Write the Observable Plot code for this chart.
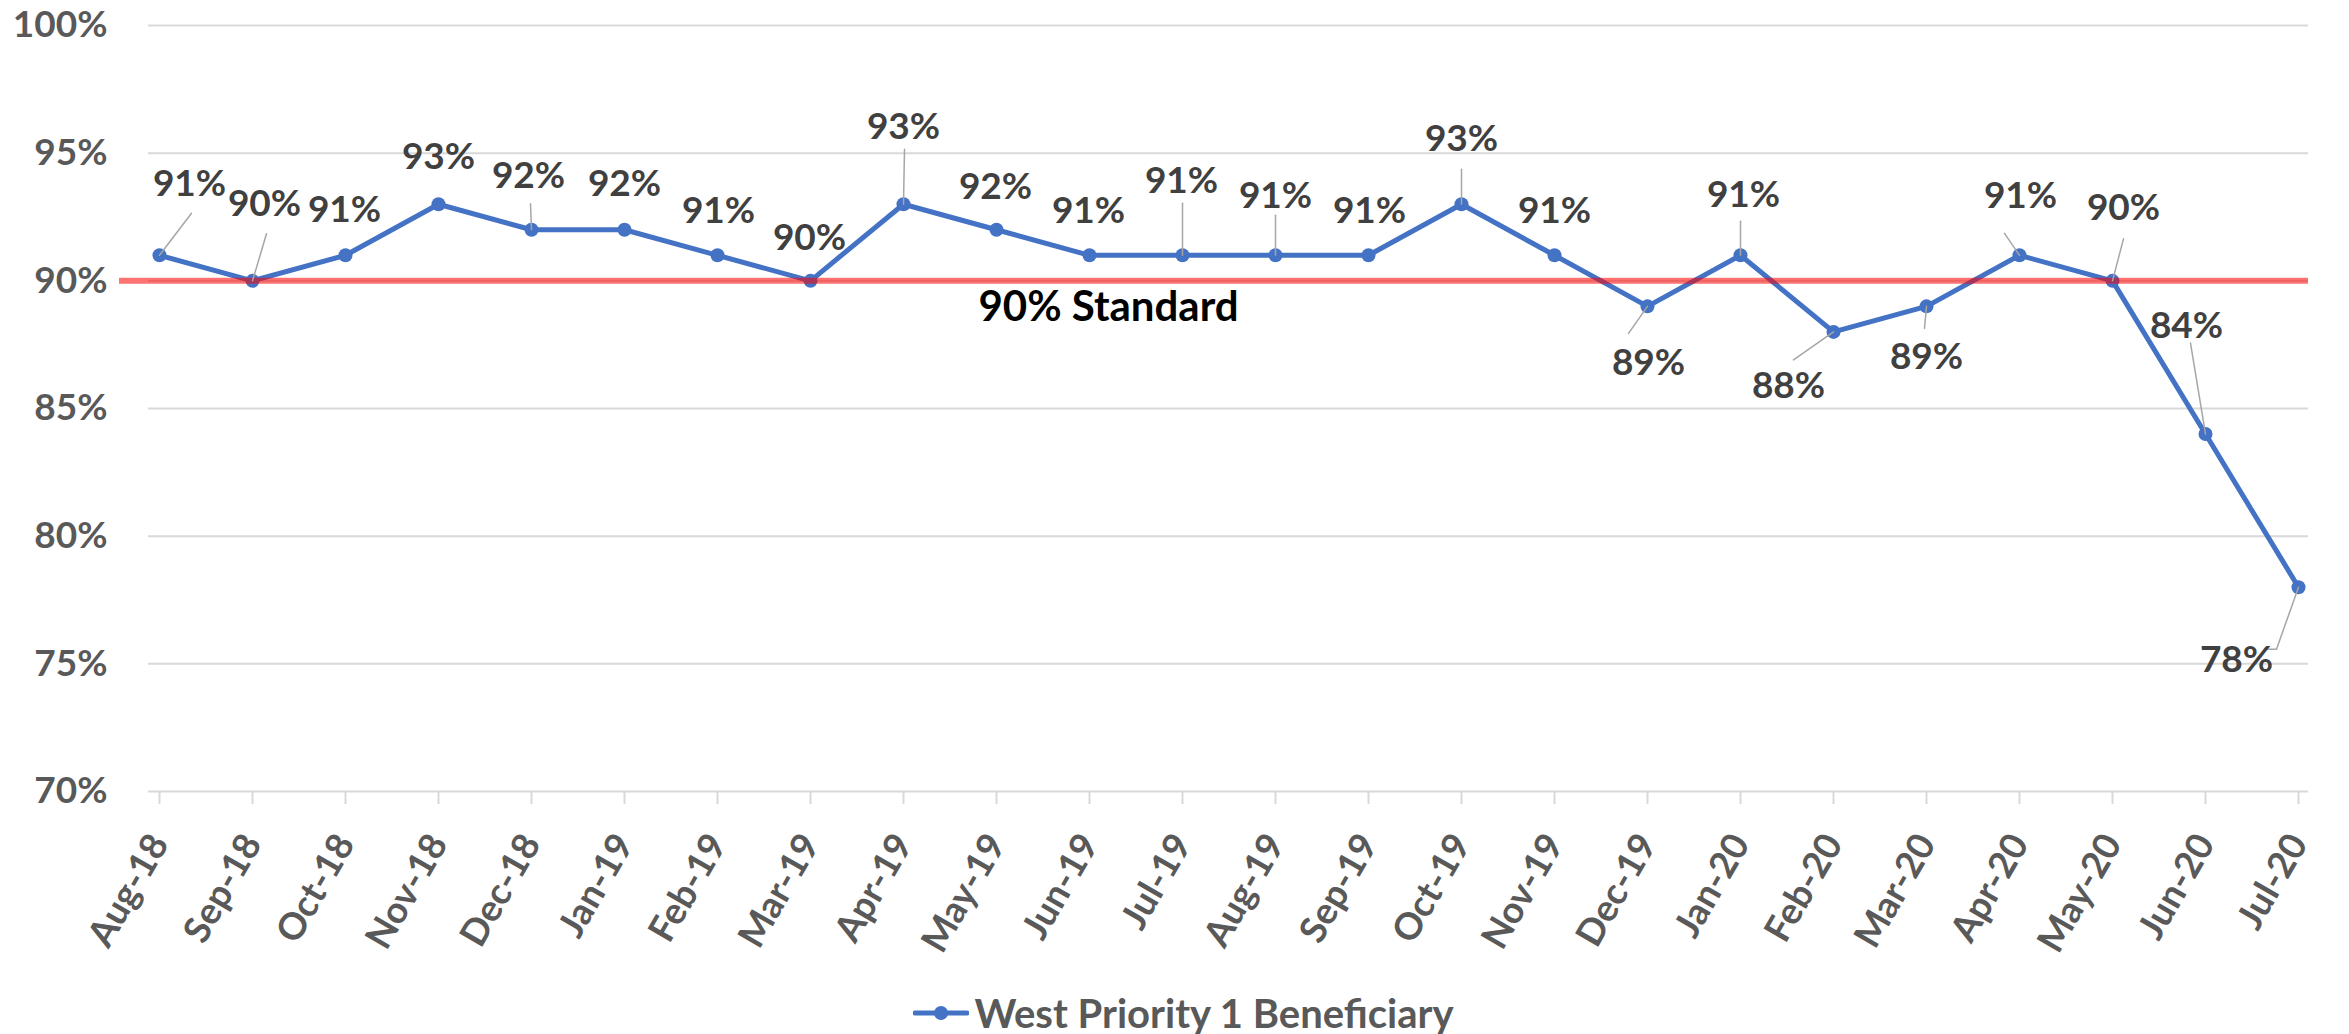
<!DOCTYPE html>
<html>
<head>
<meta charset="utf-8">
<script src="https://cdn.jsdelivr.net/npm/d3@7"></script>
<script src="https://cdn.jsdelivr.net/npm/@observablehq/plot@0.6"></script>
<style>
  html, body { margin: 0; padding: 0; background: #ffffff; }
  body { font-family: Lato, "Open Sans", sans-serif; width: 2349px; overflow: hidden; }
  #legend {
    height: 59px; box-sizing: border-box; padding-top: 17px; padding-left: 18px;
    display: flex; justify-content: center; align-items: center;
    font-family: Lato, "Open Sans", sans-serif; font-weight: bold; font-size: 40px; color: #595959;
  }
  #legend svg { margin-right: 5px; }
</style>
</head>
<body>
<div id="chart"></div>
<div id="legend"></div>
<script>
// ---- data ----
const months = ["Aug-18","Sep-18","Oct-18","Nov-18","Dec-18","Jan-19","Feb-19","Mar-19","Apr-19","May-19","Jun-19","Jul-19",
                "Aug-19","Sep-19","Oct-19","Nov-19","Dec-19","Jan-20","Feb-20","Mar-20","Apr-20","May-20","Jun-20","Jul-20"];
const values = [91,90,91,93,92,92,91,90,93,92,91,91,91,91,93,91,89,91,88,89,91,90,84,78];
const standardValue = 90;
const standardLabel = "90% Standard";
const yTicks = [70,75,80,85,90,95,100];
const seriesName = "West Priority 1 Beneficiary";

// ---- layout (label nudges in px, leader-line ends in px relative to the point) ----
const labelNudges = [[30,-71],[12,-77],[-1,-45],[0,-47],[-3,-54],[0,-46],[1,-44],[-1,-43],[0,-77],[-1,-43],[-1,-44],[-1,-74],
                     [0,-59],[1,-44],[0,-65],[0,-44],[1,57],[3,-60],[-45,54],[0,51],[1,-59],[11,-73],[-19,-108],[-62,73]];
const leaderEnds = [[32,-42],[14,-47],null,null,[-1,-26],null,null,null,[1,-55],null,null,[0,-52],
                    [0,-40],null,[0,-35],null,[-19,27],[0,-34],[-40,28],[-2,22],[-15,-22],[11,-42],[-15,-91],[-22,62]];

const data = months.map((m, i) => ({month: m, value: values[i], i}));
const blue = "#4472C4";

const leaders = data.filter(d => leaderEnds[d.i]).map(d => {
  const [lx, ly] = leaderEnds[d.i];
  return {...d, len: Math.hypot(lx, ly), rot: Math.atan2(lx, -ly) * 180 / Math.PI};
});
const segShape = {draw(context, l) { context.moveTo(0, 0); context.lineTo(0, -l); }};
const last = data[data.length - 1];
const lastLeader = leaderEnds[last.i];

const labelMarks = data.map(d => Plot.text([d], {
  x: "month", y: "value", text: v => v.value + "%",
  dx: labelNudges[d.i][0], dy: labelNudges[d.i][1],
  fill: "#404040", fontSize: 37, fontWeight: "bold"
}));

const chart = Plot.plot({
  width: 2349, height: 975,
  marginLeft: 148, marginRight: 41, marginTop: 25, marginBottom: 184,
  style: {fontFamily: "Lato, 'Open Sans', sans-serif", fontSize: "37px", fontWeight: "bold", background: "#ffffff"},
  x: {type: "point", domain: months, padding: 0},
  y: {domain: [70, 100]},
  length: {type: "identity"},
  marks: [
    Plot.ruleY(yTicks.filter(t => t > 70), {stroke: "#d9d9d9", strokeWidth: 2}),
    Plot.ruleY([yTicks[0]], {stroke: "#d9d9d9", strokeWidth: 2}),
    Plot.axisY({ticks: yTicks, tickFormat: d => d + "%", tickSize: 0, tickPadding: 41, fill: "#595959", label: null}),
    Plot.axisX({tickRotate: -60, tickSize: 13, tickPadding: 33, stroke: "#d9d9d9", strokeWidth: 2,
                fill: "#595959", textAnchor: "end", lineAnchor: "middle", label: null}),
    Plot.line(data, {x: "month", y: "value", stroke: blue, strokeWidth: 5}),
    Plot.dot(data, {x: "month", y: "value", r: 7, fill: blue}),
    Plot.ruleY([standardValue], {stroke: "#ff0000", strokeOpacity: 0.55, strokeWidth: 6, insetLeft: -29}),
    Plot.vector(leaders, {x: "month", y: "value", length: "len", rotate: "rot", anchor: "start",
                          shape: segShape, stroke: "#a6a6a6", strokeWidth: 1.5}),
    Plot.vector([last], {x: "month", y: "value", length: () => 12, rotate: () => -90, anchor: "start",
                         dx: lastLeader[0], dy: lastLeader[1], shape: segShape, stroke: "#a6a6a6", strokeWidth: 1.5}),
    ...labelMarks,
    Plot.text([{month: months[10], value: standardValue}], {x: "month", y: "value", text: () => standardLabel,
              dx: 19, dy: 27, fill: "#000000", fontSize: 42, fontWeight: "bold"})
  ]
});
document.getElementById("chart").appendChild(chart);

// legend
const legend = document.getElementById("legend");
const ns = "http://www.w3.org/2000/svg";
const sw = document.createElementNS(ns, "svg");
sw.setAttribute("width", 56); sw.setAttribute("height", 20);
const ln = document.createElementNS(ns, "line");
ln.setAttribute("x1", 2); ln.setAttribute("x2", 54); ln.setAttribute("y1", 10); ln.setAttribute("y2", 10);
ln.setAttribute("stroke", blue); ln.setAttribute("stroke-width", 5); ln.setAttribute("stroke-linecap", "round");
const c = document.createElementNS(ns, "circle");
c.setAttribute("cx", 28); c.setAttribute("cy", 10); c.setAttribute("r", 7); c.setAttribute("fill", blue);
sw.appendChild(ln); sw.appendChild(c);
legend.appendChild(sw);
const span = document.createElement("span");
span.textContent = seriesName;
legend.appendChild(span);
</script>
</body>
</html>
